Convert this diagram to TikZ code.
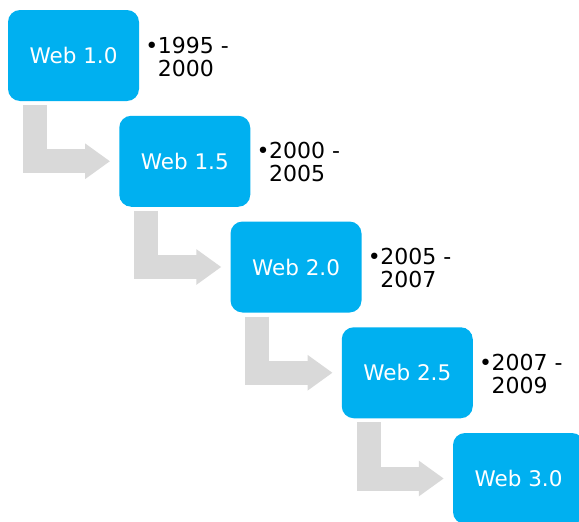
\documentclass[tikz,border=0pt]{standalone}
\usepackage{fontspec}
\setmainfont{DejaVu Sans}
\usetikzlibrary{arrows.meta,positioning}
\definecolor{webblue}{HTML}{00B0F0}
\definecolor{flowgray}{HTML}{D9D9D9}

\begin{document}
\begin{tikzpicture}
		[x=1pt,y=-1pt,
		era/.style={draw=none,fill=webblue,rounded corners=12pt,minimum width=131pt,minimum height=91pt,inner sep=0pt,text=white,font=\fontsize{21.5}{25}\selectfont},
		years/.style={anchor=west,inner sep=0pt,align=left,font=\fontsize{22}{23}\selectfont},
		flow/.style={draw=flowgray,line width=24pt,line join=miter,-{Triangle[length=25pt,width=34pt]}}]
		\useasboundingbox (0,0) rectangle (579,522);

		\node[era] (w10) at (73.5,55.5) {Web 1.0};
		\node[era] (w15) at (184.75,161.25) {Web 1.5};
		\node[era] (w20) at (296,267) {Web 2.0};
		\node[era] (w25) at (407.25,372.75) {Web 2.5};
		\node[era] (w30) at (518.5,478.5) {Web 3.0};

		\node[years] (y10) at ([xshift=6pt,yshift=-1pt]w10.east) {\makebox[12.5pt][l]{•}1995 -\\\hspace*{12.5pt}2000};
		\node[years] (y15) at ([xshift=6pt,yshift=-1pt]w15.east) {\makebox[12.5pt][l]{•}2000 -\\\hspace*{12.5pt}2005};
		\node[years] (y20) at ([xshift=6pt,yshift=-1pt]w20.east) {\makebox[12.5pt][l]{•}2005 -\\\hspace*{12.5pt}2007};
		\node[years] (y25) at ([xshift=6pt,yshift=-1pt]w25.east) {\makebox[12.5pt][l]{•}2007 -\\\hspace*{12.5pt}2009};

		\draw[flow] ([xshift=27pt,yshift=-4pt]w10.south west) |- ([xshift=-9pt]w15.west);
		\draw[flow] ([xshift=27pt,yshift=-4pt]w15.south west) |- ([xshift=-9pt]w20.west);
		\draw[flow] ([xshift=27pt,yshift=-4pt]w20.south west) |- ([xshift=-9pt]w25.west);
		\draw[flow] ([xshift=27pt,yshift=-4pt]w25.south west) |- ([xshift=-9pt]w30.west);
		\end{tikzpicture}
\end{document}
